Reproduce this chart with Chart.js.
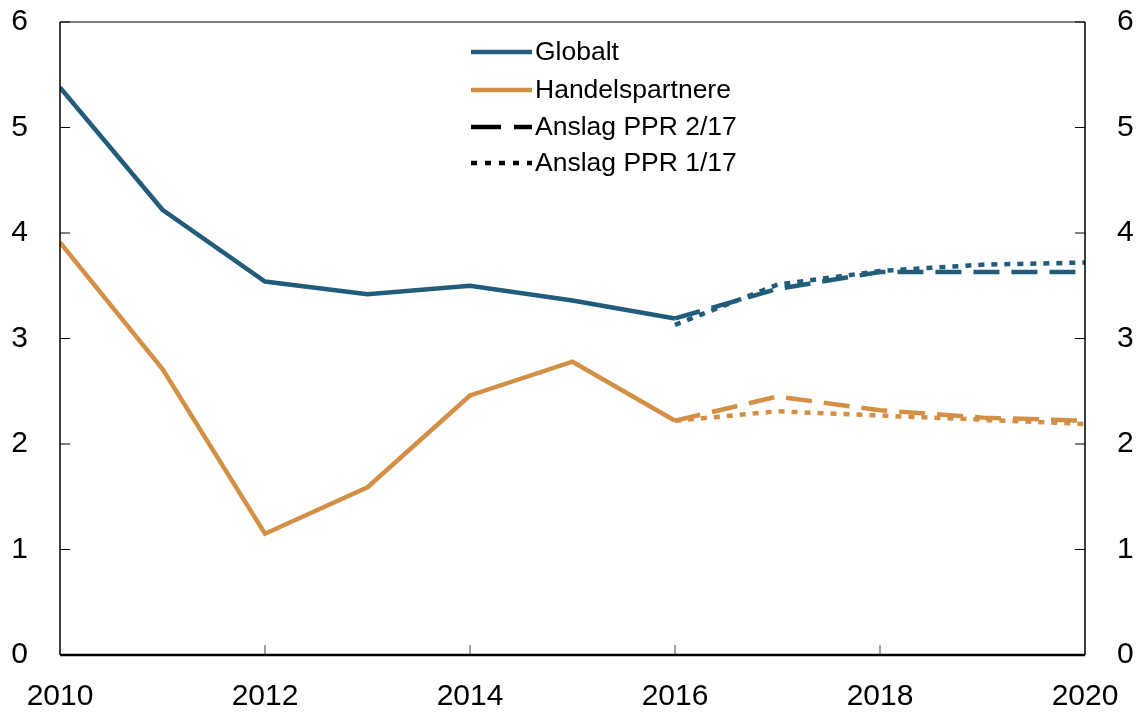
<!DOCTYPE html>
<html>
<head>
<meta charset="utf-8">
<script src="https://cdn.jsdelivr.net/npm/chart.js@4.4.1/dist/chart.umd.min.js"></script>
<style>
  html, body { margin: 0; padding: 0; background: #fff; }
  canvas { display: block; }
</style>
</head>
<body>
<canvas id="chart" width="1138" height="712"></canvas>
<script>
// data
const histYears = [2010, 2011, 2012, 2013, 2014, 2015, 2016];
const fcYears = [2016, 2017, 2018, 2019, 2020];

const globaltHist = [5.38, 4.22, 3.54, 3.42, 3.50, 3.36, 3.19];
const globaltPPR2 = [3.19, 3.47, 3.63, 3.63, 3.63];
const globaltPPR1 = [3.13, 3.51, 3.64, 3.70, 3.72];

const handelHist = [3.91, 2.71, 1.15, 1.59, 2.46, 2.78, 2.22];
const handelPPR2 = [2.22, 2.45, 2.32, 2.25, 2.22];
const handelPPR1 = [2.22, 2.31, 2.27, 2.23, 2.19];

const legendLabels = ['Globalt', 'Handelspartnere', 'Anslag PPR 2/17', 'Anslag PPR 1/17'];

const BLUE = '#215c7b';
const ORANGE = '#d38f45';
const FONT = '"Liberation Sans", Arial, Helvetica, sans-serif';

function pts(xs, ys) {
  return xs.map((x, i) => ({ x: x, y: ys[i] }));
}

function line(data, color, dash) {
  return {
    data: data,
    borderColor: color,
    borderWidth: 4.5,
    borderDash: dash,
    borderCapStyle: 'butt',
    pointRadius: 0,
    tension: 0,
    fill: false
  };
}

// frame, inward ticks and legend
const framePlugin = {
  id: 'frame',
  afterDraw(chart) {
    const ctx = chart.ctx;
    const a = chart.chartArea;
    const xs = chart.scales.x;
    const ys = chart.scales.y;
    ctx.save();

    // top border
    ctx.strokeStyle = '#555';
    ctx.lineWidth = 1.5;
    ctx.beginPath();
    ctx.moveTo(a.left, a.top);
    ctx.lineTo(a.right, a.top);
    ctx.stroke();

    // left and right borders
    ctx.strokeStyle = '#000';
    ctx.lineWidth = 1.5;
    ctx.beginPath();
    ctx.moveTo(a.left, a.top);
    ctx.lineTo(a.left, a.bottom);
    ctx.moveTo(a.right, a.top);
    ctx.lineTo(a.right, a.bottom);
    ctx.stroke();

    // y ticks pointing inward
    ctx.lineWidth = 1.2;
    for (let v = 1; v <= 6; v++) {
      const py = ys.getPixelForValue(v);
      ctx.beginPath();
      ctx.moveTo(a.left, py);
      ctx.lineTo(a.left + 10, py);
      ctx.moveTo(a.right, py);
      ctx.lineTo(a.right - 10, py);
      ctx.stroke();
    }

    // x ticks pointing up
    ctx.strokeStyle = '#444';
    ctx.lineWidth = 1;
    for (let yr = 2012; yr <= 2018; yr += 2) {
      const px = xs.getPixelForValue(yr);
      ctx.beginPath();
      ctx.moveTo(px, a.bottom);
      ctx.lineTo(px, a.bottom - 10);
      ctx.stroke();
    }

    // bottom axis
    ctx.strokeStyle = '#000';
    ctx.lineWidth = 2.5;
    ctx.beginPath();
    ctx.moveTo(a.left, a.bottom);
    ctx.lineTo(a.right, a.bottom);
    ctx.stroke();

    // legend
    const styles = [
      { color: BLUE, dash: [] },
      { color: ORANGE, dash: [] },
      { color: '#000', dash: [30, 13] },
      { color: '#000', dash: [6, 8] }
    ];
    const lx0 = 471, lx1 = 532, tx = 535;
    const rows = [52, 90, 127, 163];
    ctx.font = '26.5px ' + FONT;
    ctx.textBaseline = 'middle';
    ctx.textAlign = 'left';
    legendLabels.forEach((lab, i) => {
      ctx.strokeStyle = styles[i].color;
      ctx.lineWidth = 4.5;
      ctx.setLineDash(styles[i].dash);
      ctx.beginPath();
      ctx.moveTo(lx0, rows[i]);
      ctx.lineTo(lx1, rows[i]);
      ctx.stroke();
      ctx.setLineDash([]);
      ctx.fillStyle = '#000';
      ctx.fillText(lab, tx, rows[i] + 1);
    });

    ctx.restore();
  }
};

const tickFont = { family: FONT, size: 30 };

function fitY(width) {
  return s => {
    s.width = width;
    s.paddingTop = 0;
    s.paddingBottom = 0;
  };
}

new Chart(document.getElementById('chart'), {
  type: 'line',
  data: {
    datasets: [
      line(pts(fcYears, globaltPPR1), BLUE, [6, 7]),
      line(pts(fcYears, globaltPPR2), BLUE, [26, 12]),
      line(pts(histYears, globaltHist), BLUE, []),
      line(pts(fcYears, handelPPR1), ORANGE, [6, 7]),
      line(pts(fcYears, handelPPR2), ORANGE, [26, 12]),
      line(pts(histYears, handelHist), ORANGE, [])
    ]
  },
  options: {
    responsive: false,
    animation: false,
    layout: { padding: { top: 22, left: 0, right: 0, bottom: 0 } },
    plugins: {
      legend: { display: false },
      tooltip: { enabled: false }
    },
    scales: {
      x: {
        type: 'linear',
        min: 2010,
        max: 2020,
        grid: { display: false, drawTicks: false },
        border: { display: false },
        ticks: {
          stepSize: 2,
          padding: 24,
          color: '#000',
          font: tickFont,
          maxRotation: 0,
          callback: v => String(v)
        },
        afterFit: s => {
          s.height = 57;
          s.paddingLeft = 0;
          s.paddingRight = 0;
        }
      },
      y: {
        position: 'left',
        min: 0,
        max: 6,
        grid: { display: false, drawTicks: false },
        border: { display: false },
        ticks: { stepSize: 1, padding: 32, color: '#000', font: tickFont },
        afterFit: fitY(60)
      },
      y2: {
        position: 'right',
        min: 0,
        max: 6,
        grid: { display: false, drawTicks: false },
        border: { display: false },
        ticks: { stepSize: 1, padding: 32, color: '#000', font: tickFont },
        afterFit: fitY(53)
      }
    }
  },
  plugins: [framePlugin]
});
</script>
</body>
</html>
